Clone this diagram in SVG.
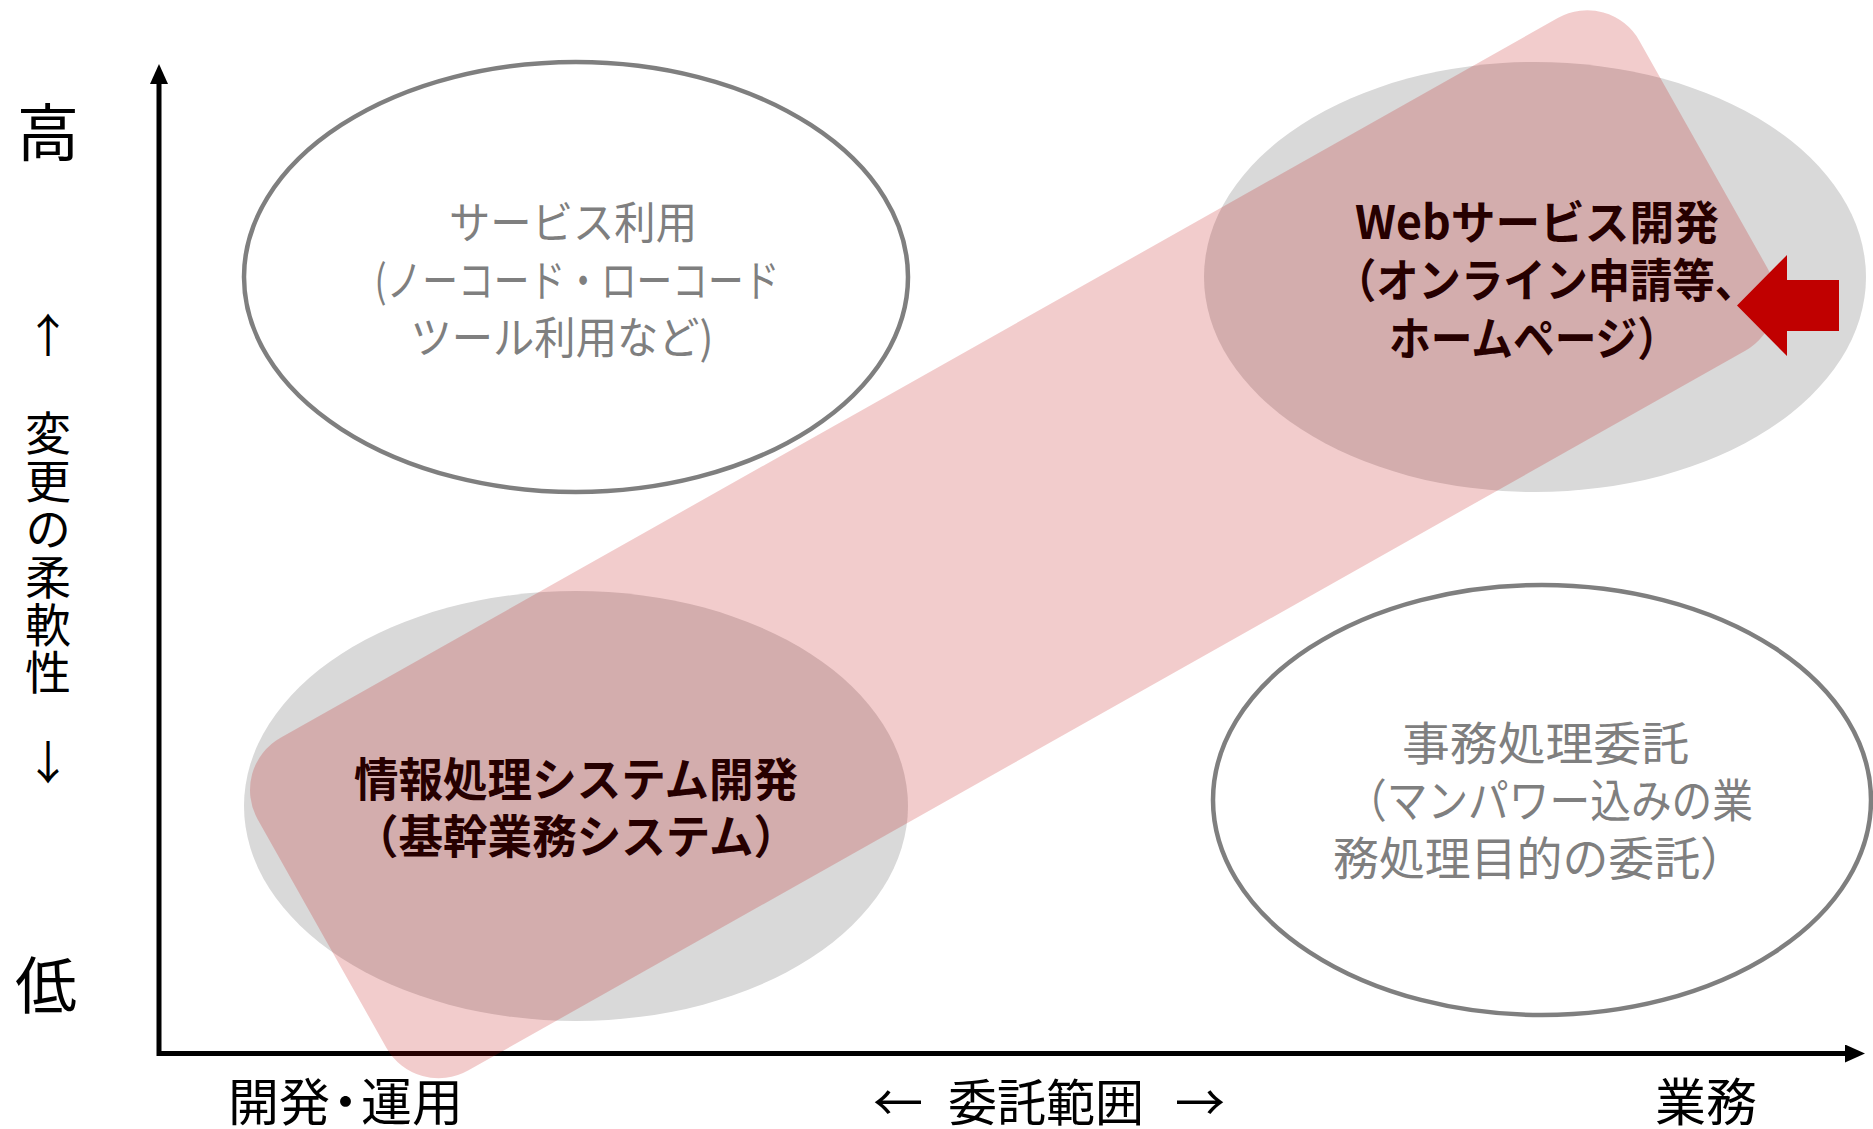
<svg xmlns="http://www.w3.org/2000/svg" width="1873" height="1129" viewBox="0 0 1873 1129">
<style>
.outline{fill:#ffffff;stroke:#7f7f7f;stroke-width:4.5}
.shade{fill:#d9d9d9}
.light{font-family:"Noto Sans CJK JP","Noto Sans",sans-serif;fill:#7f7f7f;font-size:44px}
.bold{font-family:"Noto Sans CJK JP","Noto Sans",sans-serif;font-weight:700;fill:#000000;font-size:46px}
.ax{font-family:"Noto Sans CJK JP","Noto Sans",sans-serif;fill:#000000}
.axis{stroke:#000000;stroke-width:5;fill:none}
.band{fill:#c00000;fill-opacity:0.2}
.pointer{fill:#c00000}
</style>
<defs>
<marker id="ah" markerUnits="userSpaceOnUse" markerWidth="20" markerHeight="18" refX="0" refY="9" orient="auto" viewBox="0 0 20 18"><path d="M0,0 L20,9 L0,18 z" fill="#000000"/></marker>
</defs>
<rect width="1873" height="1129" fill="#ffffff"/>

<g id="axis-labels">
<text class="ax" font-size="62" x="48" y="156" text-anchor="middle">高</text>
<text class="ax" font-size="46" x="48" y="352" text-anchor="middle">↑</text>
<text class="ax" font-size="46" x="48" y="410" writing-mode="vertical-rl" letter-spacing="1.8">変更の柔軟性</text>
<text class="ax" font-size="46" x="48" y="779" text-anchor="middle">↓</text>
<text class="ax" font-size="62" x="46" y="1009" text-anchor="middle">低</text>
<text class="ax" font-size="51" y="1121"><tspan x="228">開発</tspan><tspan x="320">・</tspan><tspan x="361">運用</tspan></text>
<text class="ax" font-size="50" y="1121"><tspan x="873">←</tspan><tspan x="948" textLength="196" lengthAdjust="spacingAndGlyphs">委託範囲</tspan><tspan x="1175">→</tspan></text>
<text class="ax" font-size="51" x="1655" y="1121">業務</text>
</g>

<g id="connectors">
<line class="axis" x1="159" y1="1056" x2="159" y2="84" marker-end="url(#ah)"/>
<line class="axis" x1="157" y1="1053.5" x2="1845" y2="1053.5" marker-end="url(#ah)"/>
</g>

<g id="node-service">
<ellipse class="outline" cx="576" cy="277" rx="332" ry="215"/>
<text class="light" text-anchor="middle"><tspan x="573" y="239" textLength="248" lengthAdjust="spacingAndGlyphs">サービス利用</tspan><tspan x="577" y="297" textLength="405" lengthAdjust="spacingAndGlyphs">(ノーコード・ローコード</tspan><tspan x="562" y="354" textLength="303" lengthAdjust="spacingAndGlyphs">ツール利用など)</tspan></text>
</g>

<g id="node-web">
<ellipse class="shade" cx="1535" cy="277" rx="331" ry="215"/>
<text class="bold"><tspan x="1355" y="239" textLength="364" lengthAdjust="spacingAndGlyphs">Webサービス開発</tspan><tspan x="1334" y="297" textLength="423" lengthAdjust="spacingAndGlyphs">（オンライン申請等、</tspan><tspan x="1389" y="355" textLength="290" lengthAdjust="spacingAndGlyphs">ホームページ）</tspan></text>
</g>

<g id="node-info">
<ellipse class="shade" cx="576" cy="806" rx="332" ry="215"/>
<text class="bold"><tspan x="354" y="796" textLength="444" lengthAdjust="spacingAndGlyphs">情報処理システム開発</tspan><tspan x="354" y="853" textLength="444" lengthAdjust="spacingAndGlyphs">（基幹業務システム）</tspan></text>
</g>

<g id="node-jimu">
<ellipse class="outline" cx="1542" cy="800" rx="329" ry="215"/>
<text class="light" style="font-size:46px"><tspan x="1402" y="760" textLength="287" lengthAdjust="spacingAndGlyphs">事務処理委託</tspan><tspan x="1346" y="817" textLength="407" lengthAdjust="spacingAndGlyphs">（マンパワー込みの業</tspan><tspan x="1333" y="875" textLength="413" lengthAdjust="spacingAndGlyphs">務処理目的の委託）</tspan></text>
</g>

<g id="band">
<rect class="band" x="-793" y="-191" width="1586" height="382" rx="60" ry="60" transform="translate(1012.9,544.3) rotate(-29.4)"/>
</g>

<g id="pointer">
<polygon class="pointer" points="1737,305.5 1787,255 1787,280 1839,280 1839,331 1787,331 1787,356"/>
</g>
</svg>
